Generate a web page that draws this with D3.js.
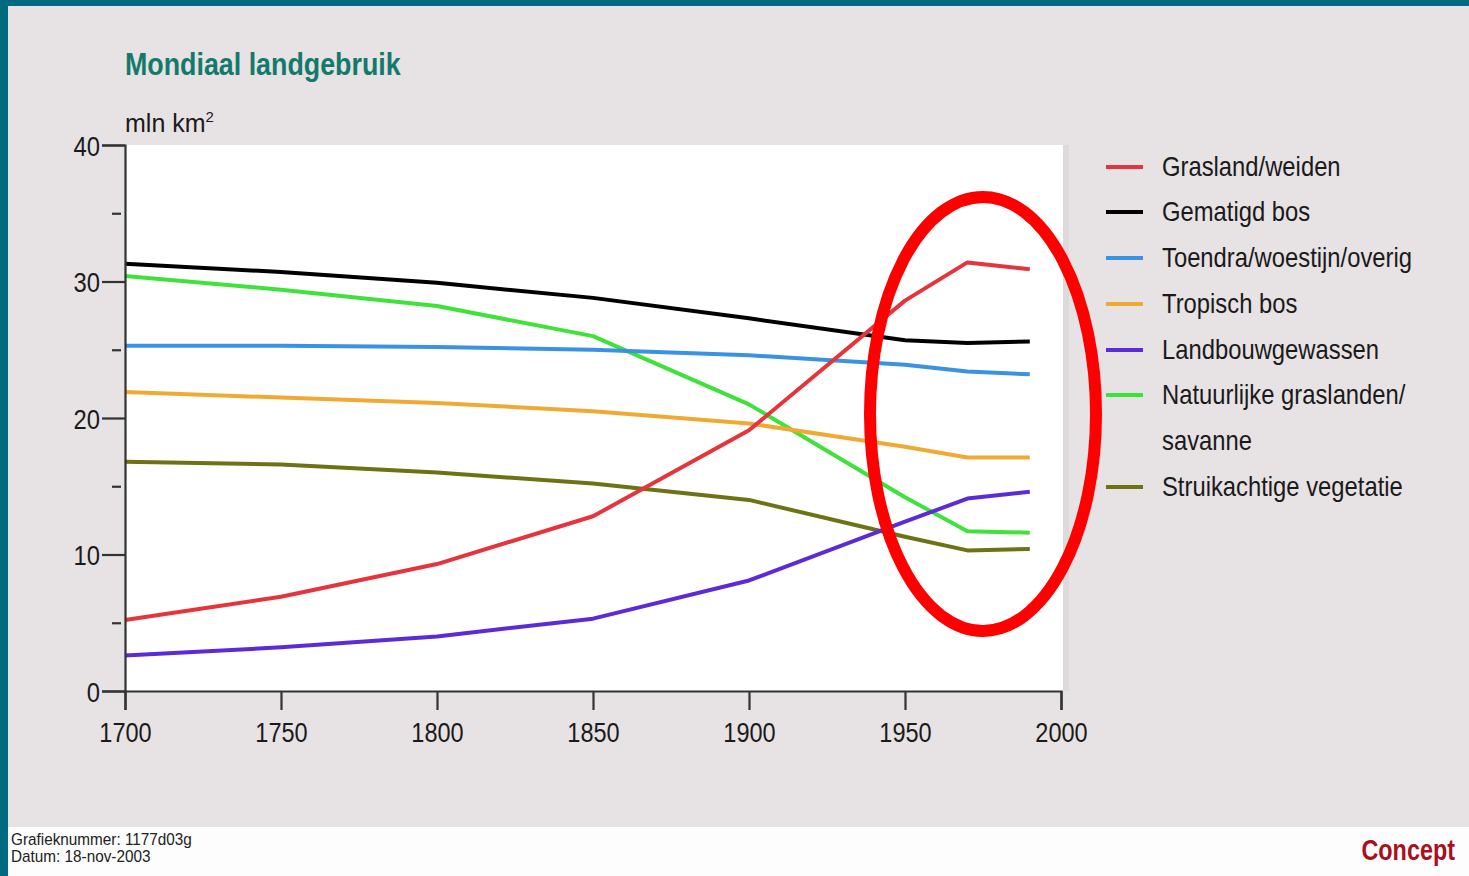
<!DOCTYPE html>
<html>
<head>
<meta charset="utf-8">
<script src="https://cdn.jsdelivr.net/npm/d3@7"></script>
<style>
  html, body { margin: 0; padding: 0; background: #006a7e; }
  svg { display: block; }
  text { font-family: "Liberation Sans", Arial, sans-serif; }
</style>
</head>
<body>
<svg id="chart" width="1469" height="876"></svg>
<script>
// Years at which the land-use estimates are given
const years = [1700, 1750, 1800, 1850, 1900, 1950, 1970, 1990];

// Area per land-use type, million km²
const grasland      = [5.2, 6.9, 9.3, 12.8, 19.1, 28.6, 31.4, 30.9];
const gematigdBos   = [31.3, 30.7, 29.9, 28.8, 27.3, 25.7, 25.5, 25.6];
const toendra       = [25.3, 25.3, 25.2, 25.0, 24.6, 23.9, 23.4, 23.2];
const tropischBos   = [21.9, 21.5, 21.1, 20.5, 19.6, 17.9, 17.1, 17.1];
const landbouw      = [2.6, 3.2, 4.0, 5.3, 8.1, 12.4, 14.1, 14.6];
const natGrasland   = [30.4, 29.4, 28.2, 26.0, 21.0, 14.2, 11.7, 11.6];
const struik        = [16.8, 16.6, 16.0, 15.2, 14.0, 11.3, 10.3, 10.4];

const seriesNames = [
  "Grasland/weiden",
  "Gematigd bos",
  "Toendra/woestijn/overig",
  "Tropisch bos",
  "Landbouwgewassen",
  "Natuurlijke graslanden/ savanne",
  "Struikachtige vegetatie"
];
const seriesValues = [grasland, gematigdBos, toendra, tropischBos, landbouw, natGrasland, struik];
const seriesColors = ["#e5343c", "#000000", "#3b91e2", "#f0aa34", "#5a2bd6", "#3ee23a", "#6d7214"];

const xTicks = [1700, 1750, 1800, 1850, 1900, 1950, 2000];
const yTicks = [0, 10, 20, 30, 40];
const yMinorTicks = [5, 15, 25, 35];

const svg = d3.select("#chart");

// Squeeze text horizontally to get a condensed sans look
function condense(sel, factor) {
  sel.each(function () {
    const w = this.getComputedTextLength();
    d3.select(this).attr("textLength", w * factor).attr("lengthAdjust", "spacingAndGlyphs");
  });
}

// Page frame: teal border, grey panel, white footer strip
svg.append("rect").attr("x", 0).attr("y", 0).attr("width", 1469).attr("height", 876).attr("fill", "#006a7e");
svg.append("rect").attr("x", 8).attr("y", 6).attr("width", 1461).attr("height", 870).attr("fill", "#e7e2e4");
svg.append("rect").attr("x", 8).attr("y", 827).attr("width", 1461).attr("height", 49).attr("fill", "#fdfdfd");

// Title and unit
svg.append("text").attr("x", 125).attr("y", 75)
  .attr("font-size", 31).attr("font-weight", "bold").attr("fill", "#137a6b")
  .text("Mondiaal landgebruik")
  .call(condense, 0.865);
svg.append("text").attr("x", 125).attr("y", 132)
  .attr("font-size", 25).attr("fill", "#1a1a1a")
  .text("mln km")
  .append("tspan").attr("font-size", 15).attr("dy", -10).text("2");

// Scales
const x = d3.scaleLinear().domain([1700, 2000]).range([125, 1061]);
const y = d3.scaleLinear().domain([0, 40]).range([691, 145]);

// Plot background
svg.append("rect").attr("x", x(1700)).attr("y", y(40))
  .attr("width", x(2000) - x(1700) + 2).attr("height", y(0) - y(40))
  .attr("fill", "#ffffff");
svg.append("rect").attr("x", x(2000) + 2).attr("y", y(40))
  .attr("width", 6).attr("height", y(0) - y(40))
  .attr("fill", "#dedadc");

// Lines
const line = d3.line().x((d, i) => x(years[i])).y(d => y(d));
const order = [6, 5, 4, 3, 2, 1, 0];
order.forEach(k => {
  svg.append("path")
    .datum(seriesValues[k])
    .attr("d", line)
    .attr("fill", "none")
    .attr("stroke", seriesColors[k])
    .attr("stroke-width", 4)
    .attr("stroke-linejoin", "round");
});

// Axes
const axisColor = "#333333";
const yAxis = svg.append("g").attr("transform", `translate(${x(1700)},0)`)
  .call(d3.axisLeft(y).tickValues(yTicks).tickSize(23).tickPadding(2).tickFormat(d3.format("d")));
const yMinor = svg.append("g").attr("transform", `translate(${x(1700) - 4},0)`)
  .call(d3.axisLeft(y).tickValues(yMinorTicks).tickSize(9).tickFormat(""));
yMinor.select(".domain").remove();

const xAxis = svg.append("g").attr("transform", `translate(0,${y(0)})`)
  .call(d3.axisBottom(x).tickValues(xTicks).tickSize(19).tickPadding(6).tickFormat(d3.format("d")));

[yAxis, yMinor, xAxis].forEach(g => {
  g.selectAll(".domain").attr("stroke", axisColor).attr("stroke-width", 2.2);
  g.selectAll(".tick line").attr("stroke", axisColor).attr("stroke-width", 2.2);
  g.selectAll(".tick text").attr("fill", "#1a1a1a").attr("font-size", 28)
    .attr("font-family", '"Liberation Sans", Arial, sans-serif');
});
yAxis.selectAll(".tick text").attr("dy", "0.36em").call(condense, 0.85);
xAxis.selectAll(".tick text").attr("dy", "0.92em").call(condense, 0.84);

// Legend
const legendX = 1106;
const legendRows = [167, 212, 258, 304, 350, 395, 487];
seriesNames.forEach((name, k) => {
  const g = svg.append("g").attr("transform", `translate(${legendX},${legendRows[k]})`);
  g.append("line").attr("x1", 0).attr("x2", 37).attr("y1", 0).attr("y2", 0)
    .attr("stroke", seriesColors[k]).attr("stroke-width", 4);
  const parts = name === "Natuurlijke graslanden/ savanne"
    ? ["Natuurlijke graslanden/", "savanne"] : [name];
  parts.forEach((p, j) => {
    g.append("text").attr("x", 56).attr("y", 9 + j * 46)
      .attr("font-size", 28).attr("fill", "#1a1a1a").text(p)
      .call(condense, 0.85);
  });
});

// Highlight ellipse around the recent period
svg.append("ellipse")
  .attr("cx", x(1975)).attr("cy", y(20.3))
  .attr("rx", 113).attr("ry", 217)
  .attr("fill", "none").attr("stroke", "#ff0000").attr("stroke-width", 12);

// Footer
svg.append("text").attr("x", 11).attr("y", 845).attr("font-size", 17).attr("fill", "#222")
  .text("Grafieknummer: 1177d03g").call(condense, 0.9);
svg.append("text").attr("x", 11).attr("y", 862).attr("font-size", 17).attr("fill", "#222")
  .text("Datum: 18-nov-2003").call(condense, 0.9);
svg.append("text")
  .attr("transform", "translate(1455,860) scale(0.78,1)")
  .attr("text-anchor", "end")
  .attr("font-size", 30).attr("font-weight", "bold")
  .attr("fill", "#a8111c").text("Concept");
</script>
</body>
</html>
